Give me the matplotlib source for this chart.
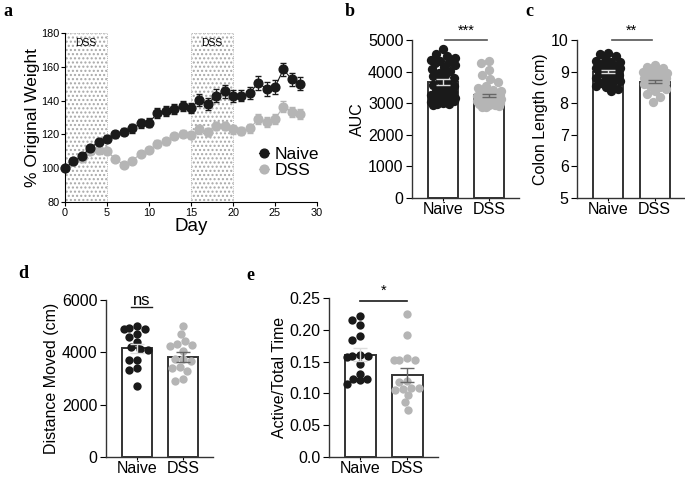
import matplotlib

matplotlib.use('Agg')
from matplotlib import pyplot as plt
import numpy as np

plt.rcParams['font.family'] = ['Liberation Sans', 'DejaVu Sans']

W, H = 685, 478

# ---- panel a: weight over time
days = list(range(29))
naive_wt = [100, 104, 107, 112, 115.5, 117.5, 120, 121.5, 123.5, 126.5, 127, 132.5, 134, 135, 137,
            135.5, 140.5, 138, 143, 145.5, 142.5, 143, 144.5, 150.5, 147, 148, 158.5, 152.5, 150]
naive_wt_err = [0.5, 1.5, 1.5, 2, 2, 2, 2, 2, 2.5, 2.5, 2.5, 3, 3, 3, 3, 3, 3.5, 3.5, 4, 4,
                3.5, 3.5, 3.5, 4, 4, 4, 4, 4, 4]
dss_wt = [100, 104, 106, 110, 111, 110, 105.5, 102, 104.5, 108.5, 110.5, 114.5, 116, 119, 120.5,
          119.5, 123, 121.5, 125, 125, 123, 122, 123.5, 129, 127.5, 129, 136.5, 133.5, 132]
dss_wt_err = [0.5, 1, 1, 1.5, 1.5, 1.5, 1.5, 1.5, 1.5, 1.5, 1.5, 2, 2, 2, 2, 2, 2.5, 2.5, 2.5, 2.5,
              2.5, 2.5, 2.5, 3, 3, 3, 3.5, 3, 3]
dss_periods = [(0, 5), (15, 20)]

groups = ['Naive', 'DSS']

# ---- panel b: AUC
auc_naive = [4700, 4560, 4480, 4430, 4380, 4330, 4310, 4280, 4220, 4150, 4080, 4020, 3960, 3900,
             3850, 3790, 3720, 3650, 3590, 3540, 3500, 3460, 3400, 3350, 3300, 3260, 3230, 3200,
             3180, 3150, 3130, 3100, 3080, 3060, 3040, 3010, 2990, 2960, 2940, 3120]
auc_dss = [4350, 4280, 4060, 3900, 3780, 3660, 3560, 3490, 3430, 3390, 3350, 3320, 3300, 3270,
           3250, 3230, 3210, 3200, 3180, 3160, 3150, 3130, 3110, 3100, 3090, 3070, 3050, 3040,
           3020, 3000, 2990, 2970, 2950, 2930, 2910, 2890, 2870, 3140, 3060, 3010]
auc_mean = [3680, 3250]
auc_sem = [100, 50]

# ---- panel c: colon length
colon_naive = [9.6, 9.55, 9.5, 9.45, 9.35, 9.3, 9.3, 9.25, 9.2, 9.15, 9.1, 9.1, 9.1, 9.05, 9.0,
               9.0, 8.95, 8.9, 8.9, 8.85, 8.8, 8.75, 8.7, 8.7, 8.65, 8.6, 8.55, 8.5, 8.45, 8.4]
colon_dss = [9.2, 9.15, 9.1, 9.05, 9.0, 9.0, 8.95, 8.9, 8.9, 8.85, 8.8, 8.8, 8.75, 8.7, 8.7,
             8.65, 8.6, 8.6, 8.55, 8.5, 8.45, 8.4, 8.3, 8.2, 8.05]
colon_mean = [9.0, 8.68]
colon_sem = [0.05, 0.04]

# ---- panel d: distance moved
dist_naive = [4900, 4990, 4920, 4900, 4580, 4710, 4190, 4110, 4090, 3720, 3720, 3390, 3340, 2710, 4400]
dist_dss = [5000, 4700, 4250, 4280, 4300, 4430, 4050, 3740, 3740, 3650, 3450, 3420, 3280, 2900, 2980]
dist_mean = [4150, 3820]
dist_sem = [180, 200]

# ---- panel e: active / total time
act_naive = [0.221, 0.215, 0.207, 0.190, 0.184, 0.159, 0.160, 0.158, 0.159, 0.146, 0.130, 0.114,
             0.121, 0.122, 0.122]
act_dss = [0.225, 0.192, 0.155, 0.152, 0.153, 0.153, 0.120, 0.106, 0.108, 0.109, 0.107, 0.098,
           0.086, 0.074, 0.118]
act_mean = [0.161, 0.129]
act_sem = [0.010, 0.011]

BLACK = '#1a1a1a'
GRAY = '#b5b5b5'
FS = 11.5


def px_axes(fig, l, t, r, b):
    return fig.add_axes([l / W, 1 - b / H, (r - l) / W, (b - t) / H])


def swarm(vals, ypx, xpx, mind, maxoff):
    # beeswarm kept inside the bar: closest free slot to the centre, else the least crowded one
    placed = []
    offs = np.zeros(len(vals))
    cands = np.arange(-maxoff, maxoff + 0.5, 1.0)
    cands = cands[np.argsort(np.abs(cands), kind='stable')]
    for i in np.argsort(-np.asarray(vals)):
        y = vals[i] * ypx
        best, best_d = 0.0, -1
        for cand in cands:
            d = min([np.hypot(cand - px, y - py) for px, py in placed] or [1e9])
            if d >= mind:
                best = cand
                break
            if d > best_d + 0.5:
                best, best_d = cand, d
        placed.append((best, y))
        offs[i] = best / xpx
    return offs


def bar_panel(fig, box, naive, dss, mean, sem, ylim, yticks, yticklabels, ylabel, msize, mind, maxoff):
    ax = px_axes(fig, *box)
    l, t, r, b = box
    ax.set_xlim(-0.67, 1.65)
    ax.set_ylim(*ylim)
    ypx = (b - t) / (ylim[1] - ylim[0])
    xpx = (r - l) / 2.32
    ax.bar([0, 1], mean, width=0.65, color='white', edgecolor='#333333', linewidth=1.4, zorder=1)
    for i, (vals, c) in enumerate([(naive, BLACK), (dss, GRAY)]):
        vals = np.array(vals, dtype=float)
        offs = swarm(vals, ypx, xpx, mind, maxoff)
        ax.scatter(i + offs, vals, s=msize, color=c, zorder=2, linewidths=0)
        ecol = '#dddddd' if i == 0 else '#666666'
        ax.errorbar(i, mean[i], yerr=sem[i], color=ecol, capsize=5, capthick=1, elinewidth=1, zorder=3)
    ax.set_yticks(yticks)
    ax.set_yticklabels(yticklabels, fontsize=FS)
    ax.set_xticks([0, 1])
    ax.set_xticklabels(groups, fontsize=FS)
    ax.tick_params(axis='x', length=2.5, pad=0.5)
    ax.tick_params(axis='y', length=4, pad=2)
    for s in ['top', 'right']:
        ax.spines[s].set_visible(False)
    for s in ['left', 'bottom']:
        ax.spines[s].set_linewidth(1.0)
        ax.spines[s].set_color('#333333')
    ax.set_ylabel(ylabel, fontsize=FS, labelpad=2)
    return ax


fig = plt.figure(figsize=(W / 100, H / 100), dpi=100)

# ---- a
ax = px_axes(fig, 65, 33, 317, 202)
for s0, s1 in dss_periods:
    ax.axvspan(s0, s1, facecolor='white', edgecolor='#a8a8a8', hatch='....', linewidth=0.6,
               linestyle=':', zorder=0)
    ax.text((s0 + s1) / 2, 174, 'DSS', ha='center', va='center', fontsize=7.5, zorder=1)
ax.errorbar(days, dss_wt, yerr=dss_wt_err, color=GRAY, marker='o', markersize=6.3, linewidth=0.8,
            capsize=2.5, elinewidth=0.8, label='DSS', clip_on=False, zorder=2)
ax.errorbar(days, naive_wt, yerr=naive_wt_err, color=BLACK, marker='o', markersize=6.3, linewidth=0.8,
            capsize=2.5, elinewidth=0.8, label='Naive', clip_on=False, zorder=3)
ax.set_xlim(0, 30)
ax.set_ylim(80, 180)
ax.set_xticks(range(0, 31, 5))
ax.set_yticks(range(80, 181, 20))
ax.tick_params(labelsize=7.8, length=3, pad=1)
for s in ['top', 'right']:
    ax.spines[s].set_visible(False)
ax.set_xlabel('Day', fontsize=13.5, labelpad=0)
ax.set_ylabel('% Original Weight', fontsize=12.5, labelpad=1)
handles, labels = ax.get_legend_handles_labels()
ax.legend([h[0] for h in handles[::-1]], labels[::-1], loc='lower right', bbox_to_anchor=(1.07, 0.05),
          frameon=False, fontsize=12.5, handlelength=0.6, handletextpad=0.3, labelspacing=0.05)

# ---- b
axb = bar_panel(fig, (412, 40, 519, 198), auc_naive, auc_dss, auc_mean, auc_sem, (0, 5000),
                range(0, 5001, 1000), [str(v) for v in range(0, 5001, 1000)], 'AUC', 45, 8, 12)
axb.plot([0.05, 0.95], [5000, 5000], color='#555555', linewidth=1.2, clip_on=False)
axb.text(0.5, 5080, '***', ha='center', va='bottom', fontsize=10.5)

# ---- c
axc = bar_panel(fig, (577, 40, 685, 198), colon_naive, colon_dss, colon_mean, colon_sem, (5, 10),
                range(5, 11), [str(v) for v in range(5, 11)], 'Colon Length (cm)', 45, 8, 12)
axc.plot([0.08, 0.95], [10, 10], color='#555555', linewidth=1.2, clip_on=False)
axc.text(0.5, 10.08, '**', ha='center', va='bottom', fontsize=10.5)

# ---- d
axd = bar_panel(fig, (106, 300, 213, 457), dist_naive, dist_dss, dist_mean, dist_sem, (0, 6000),
                range(0, 6001, 2000), [str(v) for v in range(0, 6001, 2000)], 'Distance Moved (cm)',
                36, 8, 13)
axd.text(0.1, 5800, 'ns', ha='center', va='baseline', fontsize=12)
axd.plot([-0.12, 0.32], [5720, 5720], color=BLACK, linewidth=1.0, clip_on=False)

# ---- e
axe = bar_panel(fig, (329, 298, 438, 457), act_naive, act_dss, act_mean, act_sem, (0, 0.25),
                [0, 0.05, 0.10, 0.15, 0.20, 0.25], ['0.0', '0.05', '0.10', '0.15', '0.20', '0.25'],
                'Active/Total Time', 36, 8, 13)
axe.plot([0.0, 1.0], [0.245, 0.245], color=BLACK, linewidth=1.2, clip_on=False)
axe.text(0.5, 0.25, '*', ha='center', va='bottom', fontsize=10.5)

for letter, x, y in [('a', 3, 12), ('b', 345, 12), ('c', 525, 12), ('d', 18, 274), ('e', 246, 276)]:
    fig.text(x / W, 1 - y / H, letter, fontsize=13, fontweight='bold', family='Liberation Serif',
             ha='left', va='center')

fig.savefig('out.png', dpi=100)
